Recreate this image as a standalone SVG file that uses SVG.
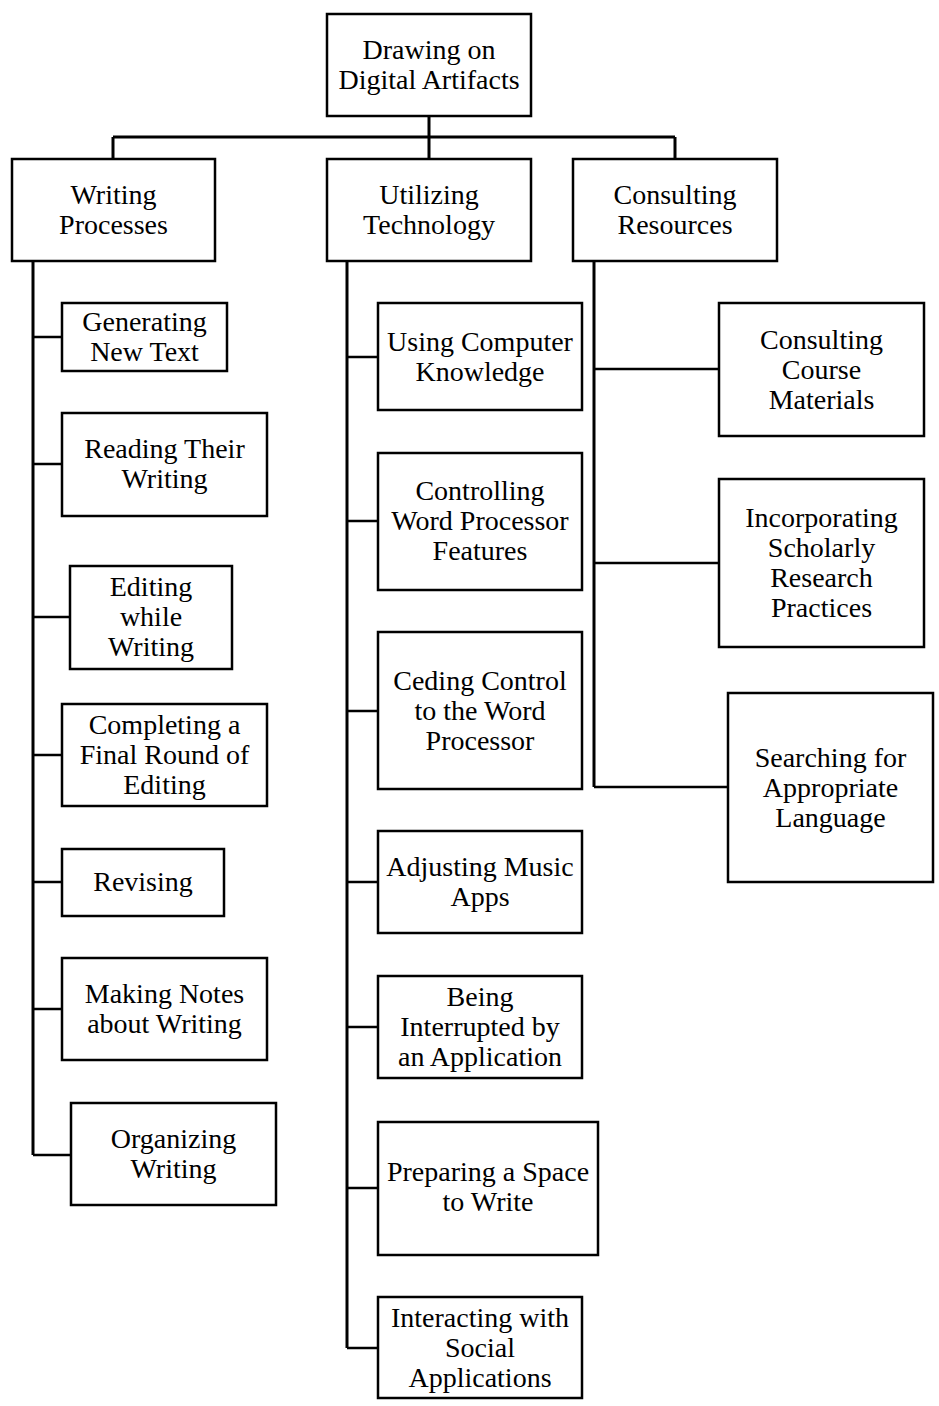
<svg xmlns="http://www.w3.org/2000/svg" width="939" height="1406" viewBox="0 0 939 1406">
<style>
.box{fill:#fff;stroke:#000;stroke-width:2.5}
.t{font-family:'Liberation Serif','Times New Roman',serif;font-size:28px;text-anchor:middle;fill:#000}
.trunk{fill:none;stroke:#000;stroke-width:3}
.br{fill:none;stroke:#000;stroke-width:2.5}
</style>
<rect width="939" height="1406" fill="#fff"/>
<g id="connectors">
<path class="trunk" d="M429 116V137M113 137H675M113 137V159M429 137V159M675 137V159"/>
<path class="trunk" d="M33 261V1155M347 261V1348M594 261V787"/>
<path class="br" d="M33 337H62M33 464H62M33 617H70M33 755H62M33 882H62M33 1009H62M33 1155H71"/>
<path class="br" d="M347 357H378M347 521H378M347 711H378M347 882H378M347 1027H378M347 1188H378M347 1348H378"/>
<path class="br" d="M594 369H719M594 563H719M594 787H728"/>
</g>
<g id="root"><rect class="box" x="327" y="14" width="204" height="102"/><text class="t" x="429" y="59">Drawing on</text><text class="t" x="429" y="89">Digital Artifacts</text></g>
<g id="writing-processes"><rect class="box" x="12" y="159" width="203" height="102"/><text class="t" x="113.5" y="204">Writing</text><text class="t" x="113.5" y="234">Processes</text></g>
<g id="utilizing-technology"><rect class="box" x="327" y="159" width="204" height="102"/><text class="t" x="429" y="204">Utilizing</text><text class="t" x="429" y="234">Technology</text></g>
<g id="consulting-resources"><rect class="box" x="573" y="159" width="204" height="102"/><text class="t" x="675" y="204">Consulting</text><text class="t" x="675" y="234">Resources</text></g>

<g id="generating"><rect class="box" x="62" y="303" width="165" height="68"/><text class="t" x="144.5" y="331">Generating</text><text class="t" x="144.5" y="361">New Text</text></g>
<g id="reading"><rect class="box" x="62" y="413" width="205" height="103"/><text class="t" x="164.5" y="458">Reading Their</text><text class="t" x="164.5" y="488">Writing</text></g>
<g id="editing"><rect class="box" x="70" y="566" width="162" height="103"/><text class="t" x="151" y="596">Editing</text><text class="t" x="151" y="626">while</text><text class="t" x="151" y="656">Writing</text></g>
<g id="completing"><rect class="box" x="62" y="704" width="205" height="102"/><text class="t" x="164.5" y="734">Completing a</text><text class="t" x="164.5" y="764">Final Round of</text><text class="t" x="164.5" y="794">Editing</text></g>
<g id="revising"><rect class="box" x="62" y="849" width="162" height="67"/><text class="t" x="143" y="891">Revising</text></g>
<g id="making-notes"><rect class="box" x="62" y="958" width="205" height="102"/><text class="t" x="164.5" y="1003">Making Notes</text><text class="t" x="164.5" y="1033">about Writing</text></g>
<g id="organizing"><rect class="box" x="71" y="1103" width="205" height="102"/><text class="t" x="173.5" y="1148">Organizing</text><text class="t" x="173.5" y="1178">Writing</text></g>

<g id="using-computer"><rect class="box" x="378" y="303" width="204" height="107"/><text class="t" x="480" y="351">Using Computer</text><text class="t" x="480" y="381">Knowledge</text></g>
<g id="controlling"><rect class="box" x="378" y="453" width="204" height="137"/><text class="t" x="480" y="500">Controlling</text><text class="t" x="480" y="530">Word Processor</text><text class="t" x="480" y="560">Features</text></g>
<g id="ceding"><rect class="box" x="378" y="632" width="204" height="157"/><text class="t" x="480" y="690">Ceding Control</text><text class="t" x="480" y="720">to the Word</text><text class="t" x="480" y="750">Processor</text></g>
<g id="adjusting"><rect class="box" x="378" y="831" width="204" height="102"/><text class="t" x="480" y="876">Adjusting Music</text><text class="t" x="480" y="906">Apps</text></g>
<g id="interrupted"><rect class="box" x="378" y="976" width="204" height="102"/><text class="t" x="480" y="1006">Being</text><text class="t" x="480" y="1036">Interrupted by</text><text class="t" x="480" y="1066">an Application</text></g>
<g id="preparing"><rect class="box" x="378" y="1122" width="220" height="133"/><text class="t" x="488" y="1181">Preparing a Space</text><text class="t" x="488" y="1211">to Write</text></g>
<g id="interacting"><rect class="box" x="378" y="1297" width="204" height="101"/><text class="t" x="480" y="1327">Interacting with</text><text class="t" x="480" y="1357">Social</text><text class="t" x="480" y="1387">Applications</text></g>

<g id="course-materials"><rect class="box" x="719" y="303" width="205" height="133"/><text class="t" x="821.5" y="349">Consulting</text><text class="t" x="821.5" y="379">Course</text><text class="t" x="821.5" y="409">Materials</text></g>
<g id="scholarly"><rect class="box" x="719" y="479" width="205" height="168"/><text class="t" x="821.5" y="527">Incorporating</text><text class="t" x="821.5" y="557">Scholarly</text><text class="t" x="821.5" y="587">Research</text><text class="t" x="821.5" y="617">Practices</text></g>
<g id="searching"><rect class="box" x="728" y="693" width="205" height="189"/><text class="t" x="830.5" y="767">Searching for</text><text class="t" x="830.5" y="797">Appropriate</text><text class="t" x="830.5" y="827">Language</text></g>
</svg>
